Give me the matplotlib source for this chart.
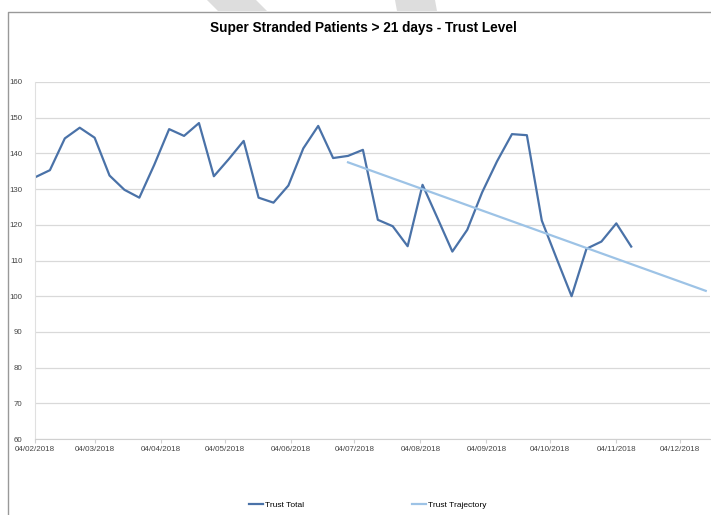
import matplotlib
matplotlib.use('Agg')
from matplotlib import pyplot as plt
import matplotlib.dates as mdates
from matplotlib.lines import Line2D
from matplotlib.patches import Polygon
import numpy as np
import pandas as pd

# weekly trust total, starting 04/02/2018
start_date = '2018-02-04'
trust_total = [133.3, 135.3, 144.2, 147.2, 144.4, 133.8, 129.8, 127.6, 136.8, 146.8,
               144.9, 148.5, 133.6, 138.4, 143.5, 127.6, 126.2, 131.0, 141.4, 147.7,
               138.7, 139.3, 141.0, 121.4, 119.6, 114.0, 131.2, 121.9, 112.5, 118.6,
               129.1, 137.8, 145.4, 145.1, 121.2, 110.5, 100.0, 113.3, 115.3, 120.4,
               113.9]
dates = pd.date_range(start_date, periods=len(trust_total), freq='7D')

# trajectory end points
traj_dates = pd.to_datetime(['2018-07-01', '2018-12-16'])
traj_values = [137.5, 101.5]

y_ticks = np.arange(60, 170, 10)

plt.rcParams['font.family'] = ['Liberation Sans', 'DejaVu Sans']

fig = plt.figure(figsize=(7.11, 5.15), dpi=100)
ax = fig.add_axes([35 / 711, 1 - 439 / 515, 675 / 711, 357 / 515])

ax.plot(dates, trust_total, color='#4a72a8', linewidth=1.6, label='Trust Total')
ax.plot(traj_dates, traj_values, color='#9dc3e6', linewidth=1.6, label='Trust Trajectory')

ax.set_ylim(60, 160)
ax.set_yticks(y_ticks)
ax.set_xlim(pd.Timestamp('2018-02-04'), pd.Timestamp('2018-12-18'))
ax.xaxis.set_major_locator(mdates.MonthLocator(bymonthday=4))
ax.xaxis.set_major_formatter(mdates.DateFormatter('%d/%m/%Y'))

ax.grid(axis='y', color='#d9d9d9', linewidth=0.9)
ax.set_axisbelow(True)
for side in ['top', 'right']:
    ax.spines[side].set_visible(False)
ax.spines['bottom'].set_color('#d0d0d0')
ax.spines['left'].set_color('#e0e0e0')
ax.tick_params(axis='y', length=0, labelsize=5.7, labelcolor='#444444', pad=9)
ax.tick_params(axis='x', length=3, color='#d0d0d0', labelsize=5.8, labelcolor='#444444', pad=2)

fig.text(363 / 711, 1 - 28 / 515, 'Super Stranded Patients > 21 days - Trust Level',
         ha='center', va='center', fontsize=9.8, fontweight='bold')

fig.legend(loc='center', bbox_to_anchor=(368 / 711, 1 - 505 / 515), ncol=2,
           frameon=False, fontsize=6, handlelength=1.6, columnspacing=13,
           handletextpad=0.3)

# chart frame
fig.add_artist(Line2D([8 / 711, 8 / 711, 1], [0, 1 - 12 / 515, 1 - 12 / 515],
                      color='#999999', linewidth=1.0))

# faint watermark strokes at top
fig.add_artist(Polygon([(207 / 711, 1), (256 / 711, 1), (267 / 711, 1 - 11 / 515),
                        (218 / 711, 1 - 11 / 515)], closed=True,
                       facecolor='#dddddd', edgecolor='none'))
fig.add_artist(Polygon([(395 / 711, 1), (435 / 711, 1), (437 / 711, 1 - 11 / 515),
                        (397 / 711, 1 - 11 / 515)], closed=True,
                       facecolor='#dddddd', edgecolor='none'))

fig.savefig('out.png', dpi=100)
